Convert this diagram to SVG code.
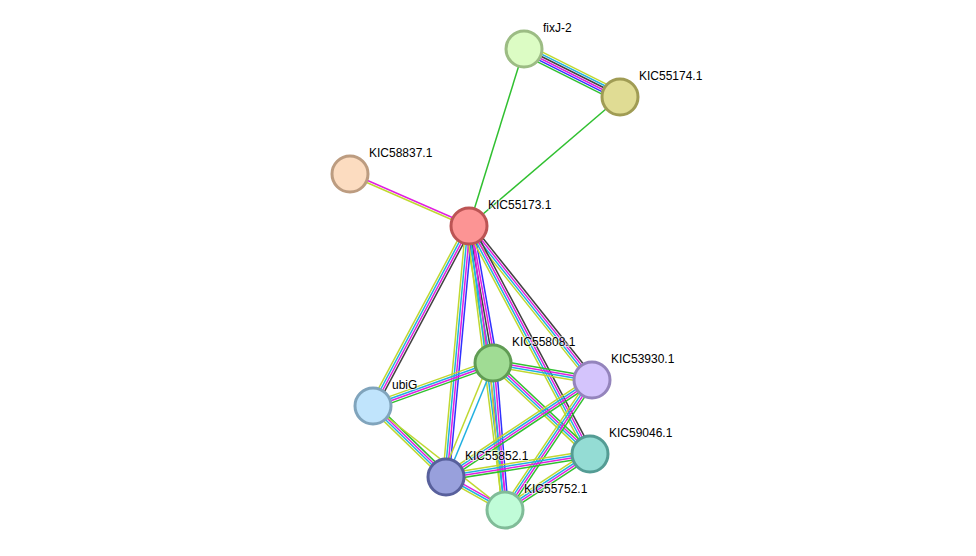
<svg xmlns="http://www.w3.org/2000/svg" width="976" height="556" viewBox="0 0 976 556">
<style>
line{stroke-width:1.5;fill:none}
.k{stroke:#404040}.m{stroke:#e020e0}.c{stroke:#20b0e0}.y{stroke:#c0d830}.g{stroke:#30c030}.b{stroke:#3030ff}
circle{stroke-width:3}
text{font-family:"Liberation Sans",Arial,sans-serif;font-size:12px;fill:#000;paint-order:stroke;stroke:#fff;stroke-width:2px;stroke-opacity:0.6}
</style>
<rect width="976" height="556" fill="#fff"/>
<g id="edges">
<g transform="translate(524 49) rotate(26.57)"><line class="y" x2="107.3" y1="-5.5" y2="-5.5"/><line class="c" x2="107.3" y1="-3.3" y2="-3.3"/><line class="k" x2="107.3" y1="-1.1" y2="-1.1"/><line class="m" x2="107.3" y1="1.1" y2="1.1"/><line class="b" x2="107.3" y1="3.3" y2="3.3"/><line class="g" x2="107.3" y1="5.5" y2="5.5"/></g>
<g transform="translate(524 49) rotate(107.26)"><line class="g" x2="185.3"/></g>
<g transform="translate(620 97) rotate(139.5)"><line class="g" x2="198.6"/></g>
<g transform="translate(350 174) rotate(23.6)"><line class="m" x2="129.9" y1="-1.1" y2="-1.1"/><line class="y" x2="129.9" y1="1.1" y2="1.1"/></g>
<g transform="translate(469 226) rotate(118.07)"><line class="k" x2="204" y1="-3.3" y2="-3.3"/><line class="m" x2="204" y1="-1.1" y2="-1.1"/><line class="c" x2="204" y1="1.1" y2="1.1"/><line class="y" x2="204" y1="3.3" y2="3.3"/></g>
<g transform="translate(469 226) rotate(80.06)"><line class="b" x2="139.1" y1="-4.4" y2="-4.4"/><line class="m" x2="139.1" y1="-2.2" y2="-2.2"/><line class="k" x2="139.1"/><line class="c" x2="139.1" y1="2.2" y2="2.2"/><line class="y" x2="139.1" y1="4.4" y2="4.4"/></g>
<g transform="translate(469 226) rotate(95.24)"><line class="b" x2="252.1" y1="-3.3" y2="-3.3"/><line class="m" x2="252.1" y1="-1.1" y2="-1.1"/><line class="c" x2="252.1" y1="1.1" y2="1.1"/><line class="y" x2="252.1" y1="3.3" y2="3.3"/></g>
<g transform="translate(469 226) rotate(82.78)"><line class="m" x2="286.3" y1="-2.2" y2="-2.2"/><line class="c" x2="286.3"/><line class="y" x2="286.3" y1="2.2" y2="2.2"/></g>
<g transform="translate(469 226) rotate(51.4)"><line class="k" x2="197.1" y1="-3.3" y2="-3.3"/><line class="m" x2="197.1" y1="-1.1" y2="-1.1"/><line class="c" x2="197.1" y1="1.1" y2="1.1"/><line class="y" x2="197.1" y1="3.3" y2="3.3"/></g>
<g transform="translate(469 226) rotate(62.05)"><line class="k" x2="258.1" y1="-3.3" y2="-3.3"/><line class="m" x2="258.1" y1="-1.1" y2="-1.1"/><line class="c" x2="258.1" y1="1.1" y2="1.1"/><line class="y" x2="258.1" y1="3.3" y2="3.3"/></g>
<g transform="translate(493 363) rotate(160.3)"><line class="g" x2="127.5" y1="-3.3" y2="-3.3"/><line class="m" x2="127.5" y1="-1.1" y2="-1.1"/><line class="c" x2="127.5" y1="1.1" y2="1.1"/><line class="y" x2="127.5" y1="3.3" y2="3.3"/></g>
<g transform="translate(493 363) rotate(9.74)"><line class="g" x2="100.4" y1="-3.3" y2="-3.3"/><line class="m" x2="100.4" y1="-1.1" y2="-1.1"/><line class="c" x2="100.4" y1="1.1" y2="1.1"/><line class="y" x2="100.4" y1="3.3" y2="3.3"/></g>
<g transform="translate(493 363) rotate(43.17)"><line class="g" x2="133" y1="-3.3" y2="-3.3"/><line class="m" x2="133" y1="-1.1" y2="-1.1"/><line class="c" x2="133" y1="1.1" y2="1.1"/><line class="y" x2="133" y1="3.3" y2="3.3"/></g>
<g transform="translate(493 363) rotate(112.4)"><line class="c" x2="123.3" y1="-1.1" y2="-1.1"/><line class="y" x2="123.3" y1="4" y2="4"/></g>
<g transform="translate(493 363) rotate(85.33)"><line class="b" x2="147.5" y1="-3.3" y2="-3.3"/><line class="m" x2="147.5" y1="-1.1" y2="-1.1"/><line class="c" x2="147.5" y1="1.1" y2="1.1"/><line class="y" x2="147.5" y1="3.3" y2="3.3"/></g>
<g transform="translate(592 380) rotate(146.4)"><line class="g" x2="175.3" y1="-3.3" y2="-3.3"/><line class="m" x2="175.3" y1="-1.1" y2="-1.1"/><line class="c" x2="175.3" y1="1.1" y2="1.1"/><line class="y" x2="175.3" y1="3.3" y2="3.3"/></g>
<g transform="translate(592 380) rotate(123.8)"><line class="g" x2="156.4" y1="-3.3" y2="-3.3"/><line class="m" x2="156.4" y1="-1.1" y2="-1.1"/><line class="c" x2="156.4" y1="1.1" y2="1.1"/><line class="y" x2="156.4" y1="3.3" y2="3.3"/></g>
<g transform="translate(373 406) rotate(44.2)"><line class="g" x2="101.8" y1="-3.3" y2="-3.3"/><line class="m" x2="101.8" y1="-1.1" y2="-1.1"/><line class="c" x2="101.8" y1="1.1" y2="1.1"/><line class="y" x2="101.8" y1="3.3" y2="3.3"/></g>
<g transform="translate(373 406) rotate(38.2)"><line class="y" x2="168"/></g>
<g transform="translate(446 477) rotate(-9.07)"><line class="y" x2="145.8" y1="-3.3" y2="-3.3"/><line class="c" x2="145.8" y1="-1.1" y2="-1.1"/><line class="m" x2="145.8" y1="1.1" y2="1.1"/><line class="g" x2="145.8" y1="3.3" y2="3.3"/></g>
<g transform="translate(446 477) rotate(29.2)"><line class="m" x2="67.6" y1="-2.2" y2="-2.2"/><line class="c" x2="67.6"/><line class="y" x2="67.6" y1="2.2" y2="2.2"/></g>
<g transform="translate(590 454) rotate(146.6)"><line class="g" x2="101.8" y1="-3.3" y2="-3.3"/><line class="m" x2="101.8" y1="-1.1" y2="-1.1"/><line class="c" x2="101.8" y1="1.1" y2="1.1"/><line class="y" x2="101.8" y1="3.3" y2="3.3"/></g>
</g>
<g id="fixJ-2"><circle cx="524" cy="49" r="18" fill="#dcfcc4" stroke="#9cbc84"/><text x="543" y="32">fixJ-2</text></g>
<g id="KIC55174.1"><circle cx="620" cy="97" r="18" fill="#e0dc94" stroke="#a09c54"/><text x="639" y="80">KIC55174.1</text></g>
<g id="KIC58837.1"><circle cx="350" cy="174" r="18" fill="#fcdcc0" stroke="#bc9c80"/><text x="369" y="157">KIC58837.1</text></g>
<g id="KIC55173.1"><circle cx="469" cy="226" r="18" fill="#fc9494" stroke="#bc5454"/><text x="488" y="209">KIC55173.1</text></g>
<g id="KIC55808.1"><circle cx="493" cy="363" r="18" fill="#a0dc94" stroke="#609c54"/><text x="512" y="346">KIC55808.1</text></g>
<g id="KIC53930.1"><circle cx="592" cy="380" r="18" fill="#d4c4fc" stroke="#9484bc"/><text x="611" y="363">KIC53930.1</text></g>
<g id="ubiG"><circle cx="373" cy="406" r="18" fill="#c0e4fc" stroke="#80a4bc"/><text x="392" y="389">ubiG</text></g>
<g id="KIC59046.1"><circle cx="590" cy="454" r="18" fill="#94dcd4" stroke="#549c94"/><text x="609" y="437">KIC59046.1</text></g>
<g id="KIC55852.1"><circle cx="446" cy="477" r="18" fill="#98a0dc" stroke="#58609c"/><text x="465" y="460">KIC55852.1</text></g>
<g id="KIC55752.1"><circle cx="505" cy="510" r="18" fill="#c0fcd8" stroke="#80bc98"/><text x="524" y="493">KIC55752.1</text></g>
</svg>
